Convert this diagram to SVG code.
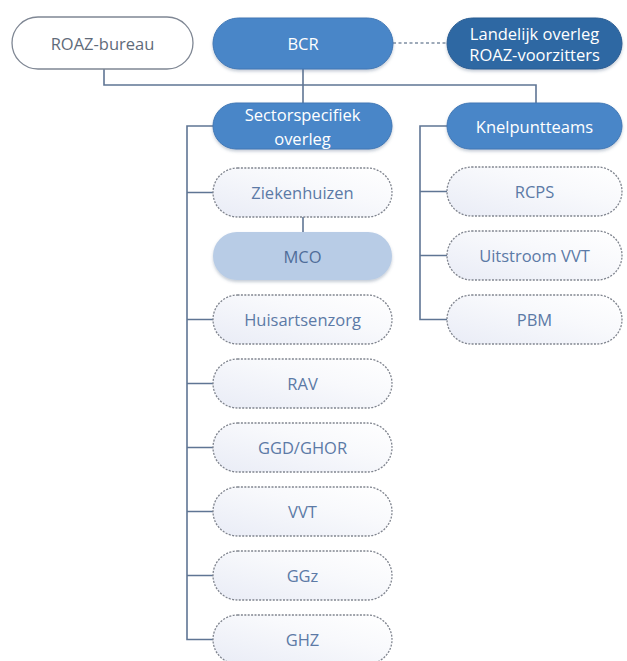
<svg xmlns="http://www.w3.org/2000/svg" width="627" height="661" viewBox="0 0 627 661">
  <defs>
    <linearGradient id="paleFill" x1="0" y1="1" x2="1" y2="0">
      <stop offset="0" stop-color="#e9ecf6"/>
      <stop offset="0.6" stop-color="#f8f9fc"/>
      <stop offset="1" stop-color="#ffffff"/>
    </linearGradient>
    <filter id="shadow" x="-10%" y="-20%" width="120%" height="150%">
      <feDropShadow dx="0" dy="2" stdDeviation="1.5" flood-color="#5a6e8a" flood-opacity="0.35"/>
    </filter>
    <style>
      text { font-family: "Open Sans", "Liberation Sans", sans-serif; font-size: 16.5px; text-anchor: middle; dominant-baseline: central; }
      .blue rect { fill: #4a86c8; stroke: #3f77b5; stroke-width: 1; filter: url(#shadow); }
      .dark rect { fill: #2f68a3; stroke: #285c92; stroke-width: 1; filter: url(#shadow); }
      .blue text, .dark text { fill: #ffffff; }
      .plain rect { fill: #ffffff; stroke: #7f8794; stroke-width: 1.3; }
      .plain text { fill: #5f6b7a; }
      .pale rect { fill: #b8cce6; stroke: none; filter: url(#shadow); }
      .pale text { fill: #4f6d99; }
      .dash rect { fill: url(#paleFill); stroke: #80858f; stroke-width: 1.3; stroke-dasharray: 2 1.4; }
      .dash text { fill: #5c7aa6; }
      #connectors path { fill: none; stroke: #5f7594; stroke-width: 1.6; }
      #connectors .dotted { stroke: #7f8ea3; stroke-dasharray: 3 2.5; }
    </style>
  </defs>
  <rect width="627" height="661" fill="#ffffff"/>

  <g id="connectors">
    <!-- top level bus -->
    <path d="M104 69 V85 H536 V103"/>
    <path d="M303 69 V103"/>
    <path class="dotted" d="M393 43 H447"/>
    <!-- sector trunk -->
    <path d="M213 126 H187 V639.5 H213"/>
    <path d="M187 192.5 H213 M187 319.5 H213 M187 383.5 H213 M187 447.5 H213 M187 511.5 H213 M187 575.5 H213"/>
    <path d="M303 217 V232"/>
    <!-- knelpunt trunk -->
    <path d="M447 126 H420 V319.5 H447"/>
    <path d="M420 191.5 H447 M420 255.5 H447"/>
  </g>

  <g id="roaz-bureau" class="plain">
    <rect x="12" y="17" width="181" height="52" rx="26"/>
    <text x="102.5" y="43">ROAZ-bureau</text>
  </g>
  <g id="bcr" class="blue">
    <rect x="213" y="18" width="180" height="51" rx="25.5"/>
    <text x="303" y="43">BCR</text>
  </g>
  <g id="landelijk-overleg" class="dark">
    <rect x="447" y="18" width="175" height="51" rx="25.5"/>
    <text x="534.5" y="33">Landelijk overleg</text>
    <text x="534.5" y="54">ROAZ-voorzitters</text>
  </g>

  <g id="sectorspecifiek-overleg" class="blue">
    <rect x="213" y="103" width="179" height="46" rx="23"/>
    <text x="302.5" y="114">Sectorspecifiek</text>
    <text x="302.5" y="138">overleg</text>
  </g>
  <g id="knelpuntteams" class="blue">
    <rect x="447" y="103" width="175" height="46" rx="23"/>
    <text x="534.5" y="126">Knelpuntteams</text>
  </g>

  <g id="ziekenhuizen" class="dash">
    <rect x="213" y="168" width="179" height="49" rx="24.5"/>
    <text x="302.5" y="192.5">Ziekenhuizen</text>
  </g>
  <g id="mco" class="pale">
    <rect x="213" y="232" width="179" height="48" rx="24"/>
    <text x="302.5" y="256">MCO</text>
  </g>
  <g id="huisartsenzorg" class="dash">
    <rect x="213" y="295" width="179" height="49" rx="24.5"/>
    <text x="302.5" y="319.5">Huisartsenzorg</text>
  </g>
  <g id="rav" class="dash">
    <rect x="213" y="359" width="179" height="49" rx="24.5"/>
    <text x="302.5" y="383.5">RAV</text>
  </g>
  <g id="ggd-ghor" class="dash">
    <rect x="213" y="423" width="179" height="49" rx="24.5"/>
    <text x="302.5" y="447.5">GGD/GHOR</text>
  </g>
  <g id="vvt" class="dash">
    <rect x="213" y="487" width="179" height="49" rx="24.5"/>
    <text x="302.5" y="511.5">VVT</text>
  </g>
  <g id="ggz" class="dash">
    <rect x="213" y="551" width="179" height="49" rx="24.5"/>
    <text x="302.5" y="575.5">GGz</text>
  </g>
  <g id="ghz" class="dash">
    <rect x="213" y="615" width="179" height="49" rx="24.5"/>
    <text x="302.5" y="639.5">GHZ</text>
  </g>

  <g id="rcps" class="dash">
    <rect x="447" y="167" width="175" height="49" rx="24.5"/>
    <text x="534.5" y="191.5">RCPS</text>
  </g>
  <g id="uitstroom-vvt" class="dash">
    <rect x="447" y="231" width="175" height="49" rx="24.5"/>
    <text x="534.5" y="255.5">Uitstroom VVT</text>
  </g>
  <g id="pbm" class="dash">
    <rect x="447" y="295" width="175" height="49" rx="24.5"/>
    <text x="534.5" y="319.5">PBM</text>
  </g>
</svg>
